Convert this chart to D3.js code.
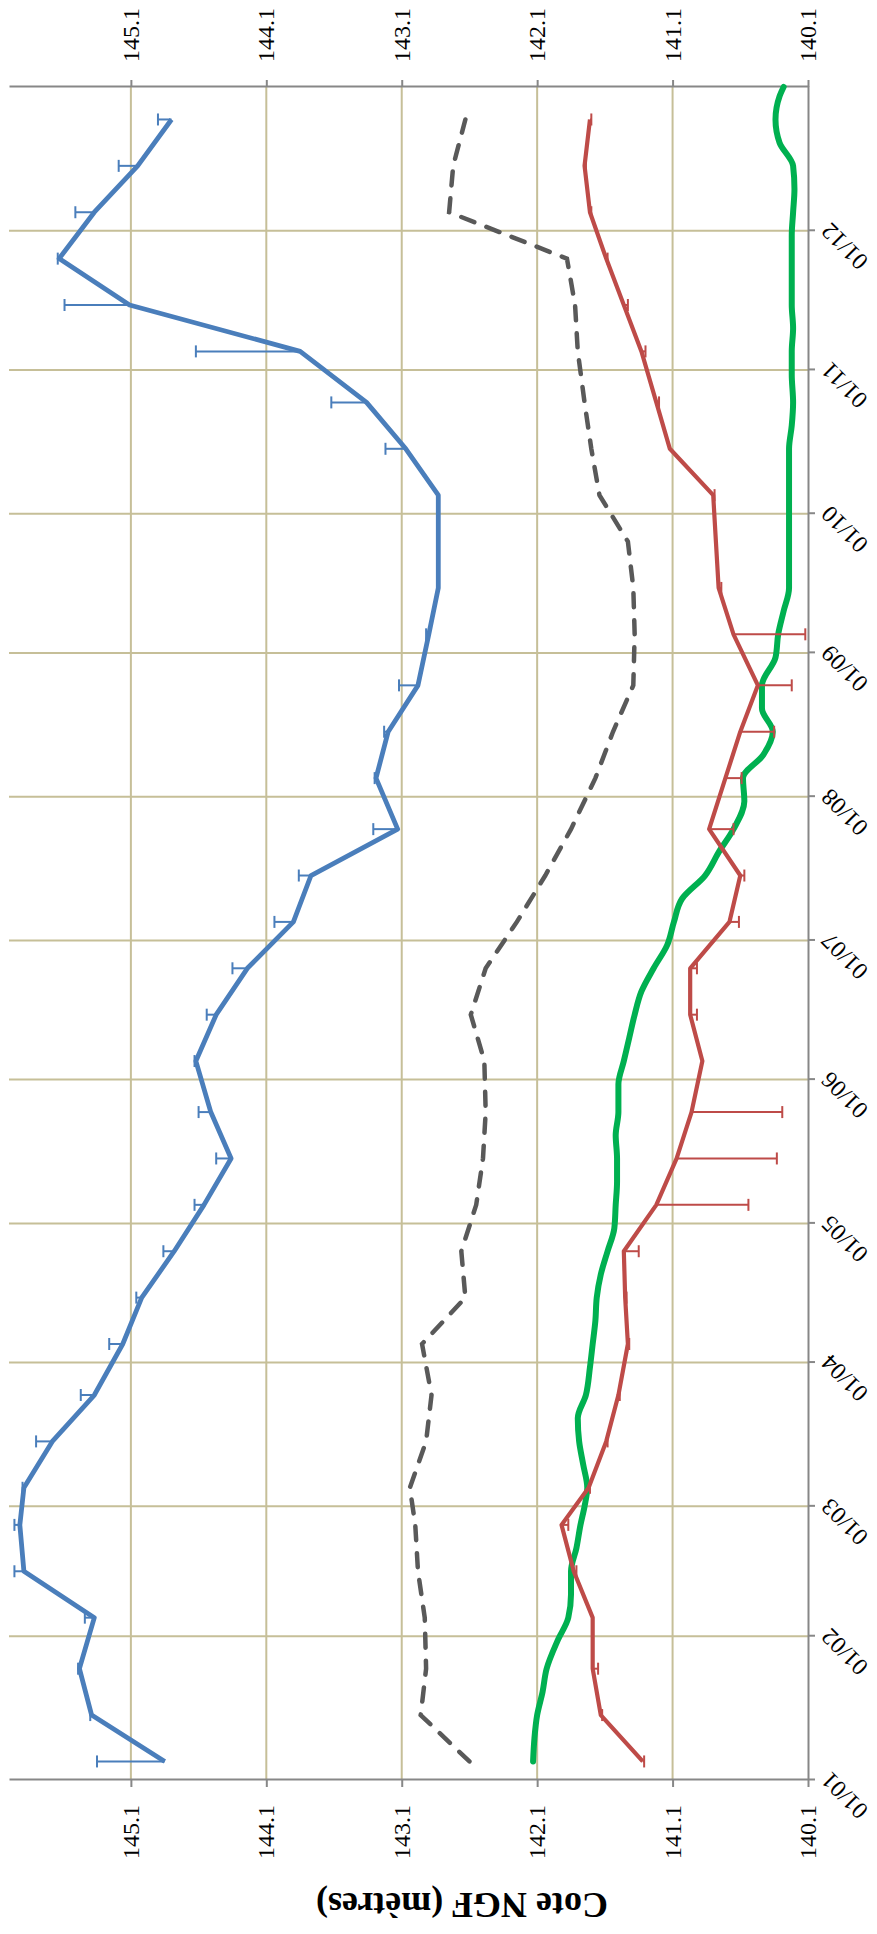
<!DOCTYPE html>
<html><head><meta charset="utf-8">
<script src="https://cdn.jsdelivr.net/npm/d3@7"></script>
<style>body{margin:0;background:#fff}</style>
</head><body>
<svg id="c" width="877" height="1934"></svg>
<script>
// ---- DATA ----
const dekadDates = ["2011-01-05","2011-01-15","2011-01-25","2011-02-05","2011-02-15","2011-02-25","2011-03-05","2011-03-15","2011-03-25","2011-04-05","2011-04-15","2011-04-25","2011-05-05","2011-05-15","2011-05-25","2011-06-05","2011-06-15","2011-06-25","2011-07-05","2011-07-15","2011-07-25","2011-08-05","2011-08-15","2011-08-25","2011-09-05","2011-09-15","2011-09-25","2011-10-05","2011-10-15","2011-10-25","2011-11-05","2011-11-15","2011-11-25","2011-12-05","2011-12-15","2011-12-25"];
const blueValues = [144.85,145.39,145.48,145.37,145.89,145.92,145.89,145.68,145.37,145.16,145.02,144.78,144.56,144.36,144.51,144.62,144.47,144.24,143.90,143.77,143.13,143.29,143.20,142.98,142.90,142.83,142.83,142.83,143.07,143.36,143.85,145.11,145.63,145.37,145.05,144.80];
const blueErrPlus = [0.50,0.01,0.01,0.07,0.07,0.04,0.01,0.12,0.10,0.10,0.04,0.08,0.07,0.11,0.09,0.01,0.07,0.11,0.14,0.09,0.18,0.01,0.03,0.14,0.02,0,0,0,0.15,0.26,0.77,0.48,0.01,0.14,0.14,0.10];
const redValues = [141.32,141.63,141.69,141.69,141.83,141.92,141.72,141.59,141.50,141.43,141.45,141.46,141.22,141.07,140.96,140.88,140.97,140.97,140.68,140.60,140.83,140.71,140.60,140.47,140.65,140.76,140.78,140.80,141.12,141.22,141.33,141.46,141.59,141.71,141.75,141.71];
const redErrMinus = [0.01,0.01,0.04,0,0.02,0.05,0.01,0.01,0.01,0.01,0.01,0.11,0.68,0.74,0.67,0,0.05,0.05,0.07,0.03,0.18,0.12,0.25,0.25,0.53,0.02,0,0.01,0,0.02,0.03,0.03,0.01,0.01,0.01,0.01];
const grayValues = [142.60,142.96,142.92,142.93,142.98,143.00,143.04,142.92,142.88,142.95,142.63,142.66,142.55,142.50,142.48,142.49,142.59,142.48,142.25,142.04,141.85,141.67,141.54,141.39,141.38,141.39,141.43,141.64,141.70,141.75,141.80,141.82,141.88,142.75,142.72,142.63];
const greenDates = ["2011-01-05","2011-01-10","2011-01-15","2011-01-20","2011-01-25","2011-01-31","2011-02-05","2011-02-10","2011-02-15","2011-02-20","2011-02-25","2011-03-01","2011-03-05","2011-03-10","2011-03-15","2011-03-20","2011-03-25","2011-03-31","2011-04-05","2011-04-10","2011-04-15","2011-04-20","2011-04-25","2011-04-30","2011-05-05","2011-05-10","2011-05-15","2011-05-20","2011-05-25","2011-05-31","2011-06-05","2011-06-10","2011-06-15","2011-06-20","2011-06-25","2011-06-30","2011-07-05","2011-07-10","2011-07-15","2011-07-20","2011-07-25","2011-07-31","2011-08-05","2011-08-10","2011-08-15","2011-08-20","2011-08-25","2011-08-31","2011-09-05","2011-09-10","2011-09-15","2011-09-20","2011-09-25","2011-09-30","2011-10-05","2011-10-10","2011-10-15","2011-10-20","2011-10-25","2011-10-31","2011-11-05","2011-11-10","2011-11-15","2011-11-20","2011-11-25","2011-11-30","2011-12-05","2011-12-10","2011-12-15","2011-12-20","2011-12-25","2011-12-30","2012-01-01"];
const greenValues = [142.13,142.12,142.10,142.06,142.03,141.95,141.87,141.85,141.85,141.81,141.78,141.75,141.73,141.76,141.79,141.80,141.74,141.71,141.69,141.67,141.66,141.63,141.58,141.53,141.52,141.51,141.51,141.52,141.50,141.50,141.46,141.42,141.38,141.33,141.24,141.14,141.09,141.03,140.86,140.76,140.65,140.57,140.58,140.43,140.36,140.44,140.44,140.34,140.32,140.28,140.24,140.24,140.24,140.24,140.24,140.24,140.24,140.22,140.21,140.22,140.22,140.21,140.22,140.22,140.22,140.22,140.21,140.20,140.21,140.31,140.34,140.31,140.28];
const valueTicks = [140.1,141.1,142.1,143.1,144.1,145.1];
const monthTicks = ["2011-01-01","2011-02-01","2011-03-01","2011-04-01","2011-05-01","2011-06-01","2011-07-01","2011-08-01","2011-09-01","2011-10-01","2011-11-01","2011-12-01"];
const yTitle = "Cote NGF (mètres)";

// ---- CHART ----
const parse = d3.timeParse("%Y-%m-%d");
const W = 1693, H = 799;
const FONT = "'Liberation Serif','Times New Roman',serif";
const x = d3.scaleTime().domain([parse("2011-01-01"), parse("2012-01-01")]).range([0, W]);
const y = d3.scaleLinear().domain([140.1, 146.0]).range([H, 0]);

const svg = d3.select("#c");
svg.append("rect").attr("width", 877).attr("height", 1934).attr("fill", "#fff");
// chart drawn in landscape, then turned a quarter turn anticlockwise
const g = svg.append("g").attr("transform", "translate(9,1780) rotate(-90)");

const gridColor = "#c6bf98";
g.append("g").selectAll("line").data(valueTicks.slice(1)).join("line")
  .attr("x1", 0).attr("x2", W).attr("y1", d => y(d)).attr("y2", d => y(d))
  .attr("stroke", gridColor).attr("stroke-width", 2);
g.append("g").selectAll("line").data(monthTicks.slice(1).map(parse)).join("line")
  .attr("x1", d => x(d)).attr("x2", d => x(d)).attr("y1", 0).attr("y2", H)
  .attr("stroke", gridColor).attr("stroke-width", 2);

function styleAxis(sel) {
  sel.attr("font-family", null).attr("font-size", null);
  sel.selectAll("path,line").attr("stroke", "#878787").attr("stroke-width", 2);
  sel.selectAll("text").attr("fill", "#000").style("font-family", FONT).style("font-size", "24px");
}
const fmt = d3.format(".1f");
const ax = g.append("g").attr("transform", `translate(0,${H})`)
  .call(d3.axisBottom(x).tickValues(monthTicks.map(parse)).tickFormat(d3.timeFormat("%d/%m")).tickSize(7).tickSizeOuter(0));
styleAxis(ax);
ax.selectAll("text").attr("x", 0).attr("y", 0).attr("dy", "0.35em")
  .attr("text-anchor", "end").attr("transform", "translate(3,17) rotate(-45)");

const ayl = g.append("g").call(d3.axisLeft(y).tickValues(valueTicks).tickFormat(fmt).tickSize(7).tickSizeOuter(0).tickPadding(18));
styleAxis(ayl);
const ayr = g.append("g").attr("transform", `translate(${W},0)`)
  .call(d3.axisRight(y).tickValues(valueTicks).tickFormat(fmt).tickSize(7).tickSizeOuter(0).tickPadding(18));
styleAxis(ayr);

g.append("text").text(yTitle)
  .attr("transform", `translate(-125,453) rotate(-90)`)
  .attr("text-anchor", "middle").attr("dominant-baseline", "central")
  .style("font-family", FONT).style("font-size", "36px").style("font-weight", "bold");

// series
const dek = dekadDates.map(parse);
const line = d3.line().x(d => x(d[0])).y(d => y(d[1]));

g.append("path").datum(dek.map((d, i) => [d, grayValues[i]]))
  .attr("d", line).attr("fill", "none").attr("stroke", "#595959").attr("stroke-width", 4.5)
  .attr("stroke-dasharray", "14,13").attr("stroke-linecap", "round");

g.append("path").datum(greenDates.map((d, i) => [parse(d), greenValues[i]]))
  .attr("d", line.curve(d3.curveMonotoneX)).attr("fill", "none").attr("stroke", "#00b050")
  .attr("stroke-width", 6).attr("stroke-linejoin", "round").attr("stroke-linecap", "round");
line.curve(d3.curveLinear);

function errBars(vals, errs, sign, color) {
  const data = dek.map((d, i) => ({d, v: vals[i], e: errs[i]})).filter(o => o.e > 0);
  const eg = g.append("g").attr("stroke", color).attr("stroke-width", 2);
  eg.selectAll(".s").data(data).join("line")
    .attr("x1", o => x(o.d)).attr("x2", o => x(o.d))
    .attr("y1", o => y(o.v)).attr("y2", o => y(o.v + sign * o.e));
  eg.selectAll(".c").data(data).join("line")
    .attr("x1", o => x(o.d) - 6).attr("x2", o => x(o.d) + 6)
    .attr("y1", o => y(o.v + sign * o.e)).attr("y2", o => y(o.v + sign * o.e));
}

g.append("path").datum(dek.map((d, i) => [d, redValues[i]]))
  .attr("d", line).attr("fill", "none").attr("stroke", "#be4b48").attr("stroke-width", 4.2).attr("stroke-linejoin", "round");
errBars(redValues, redErrMinus, -1, "#be4b48");

g.append("path").datum(dek.map((d, i) => [d, blueValues[i]]))
  .attr("d", line).attr("fill", "none").attr("stroke", "#4a7ebb").attr("stroke-width", 4.8).attr("stroke-linejoin", "round");
errBars(blueValues, blueErrPlus, 1, "#4a7ebb");
</script>
</body></html>
